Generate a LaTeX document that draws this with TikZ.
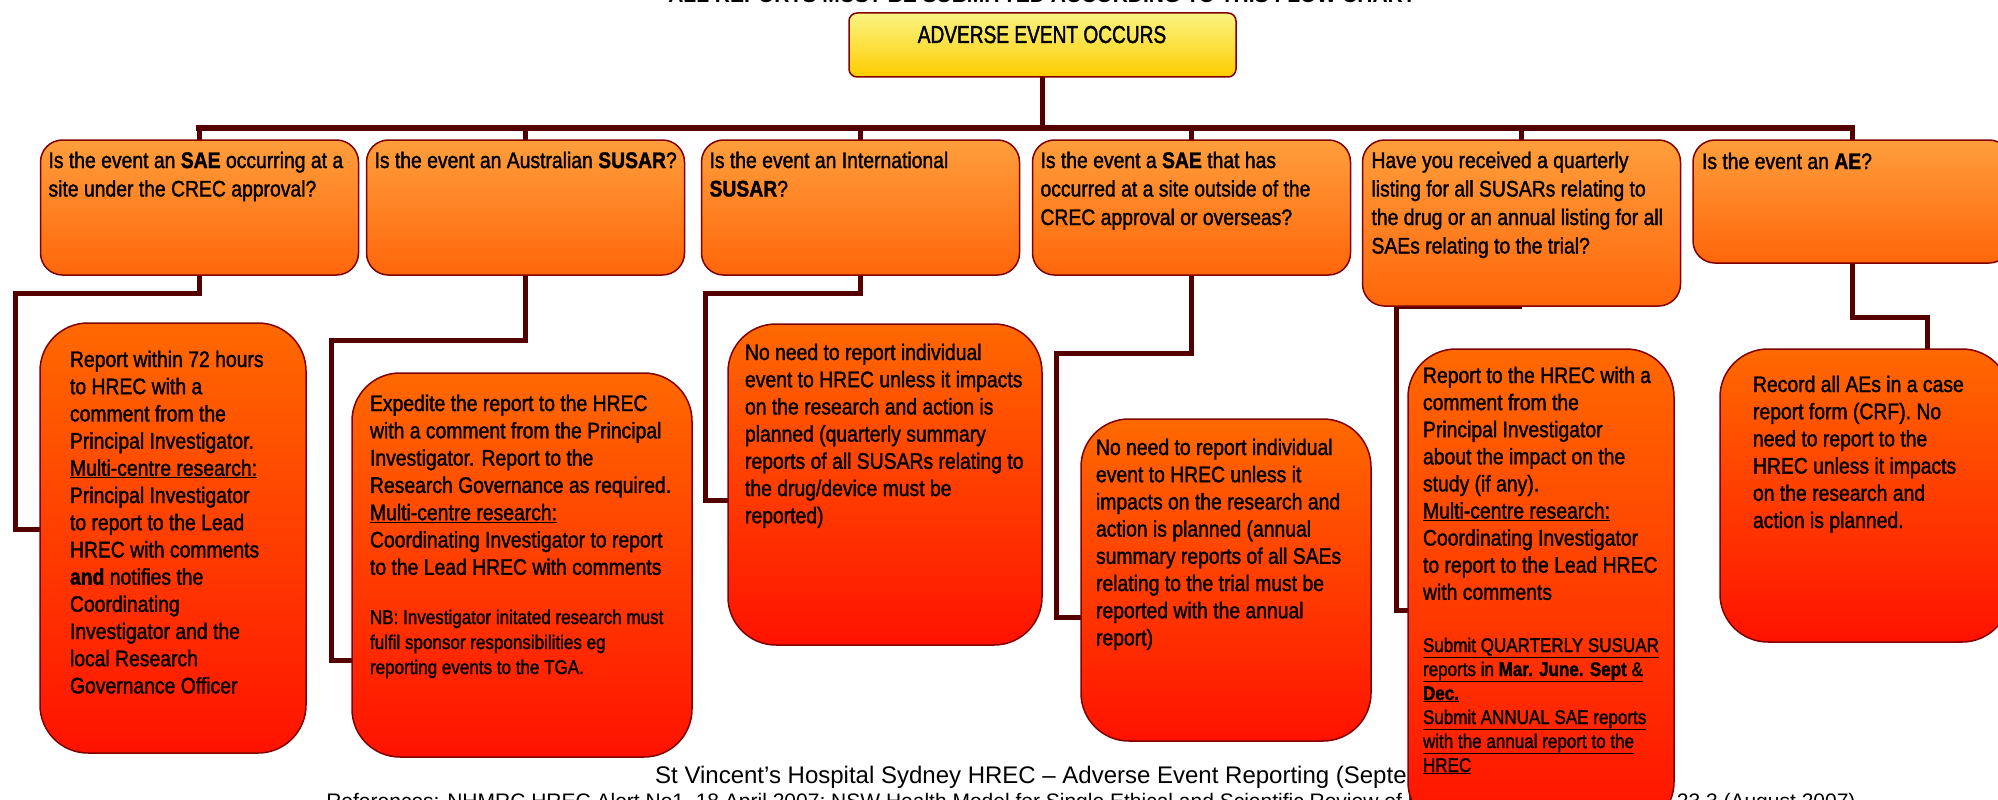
\documentclass[tikz,border=0pt]{standalone}
\usepackage{fontspec}
\setmainfont{Liberation Sans}[FakeStretch=0.86, FakeBold=1.5]
\newfontfamily\arialf{Liberation Sans}
\newfontfamily\headf{Liberation Sans}[FakeStretch=0.78, FakeBold=1.5]
\usetikzlibrary{backgrounds}
\definecolor{connc}{RGB}{85,0,0}
\definecolor{bord}{RGB}{128,0,0}
\definecolor{qtop}{RGB}{255,158,60}
\definecolor{qbot}{RGB}{255,102,10}
\definecolor{atop}{RGB}{255,105,0}
\definecolor{abot}{RGB}{255,18,0}
\definecolor{ytop}{RGB}{250,244,130}
\definecolor{ybot}{RGB}{255,204,0}
\newcommand\tlines[2]{\vtop{\baselineskip=#1\relax\lineskiplimit=-1000pt\lineskip=0pt\halign{##\hfil\cr#2\crcr}}}
\begin{document}
\begin{tikzpicture}[x=1pt,y=-1pt,
  conn/.style={draw=connc, line width=5pt, line join=miter},
  bus/.style={draw=connc, line width=6.5pt, line cap=rect},
  box/.style={draw=bord, line width=1.5pt, rounded corners=#1, inner sep=0pt, outer sep=0pt},
  qbox/.style={box=22pt, top color=qtop, bottom color=qbot},
  abox/.style={box=48pt, top color=atop, bottom color=abot},
  txt/.style={anchor=base west, inner sep=0pt, outer sep=0pt},
  qtxt/.style={txt, font=\fontsize{22.5pt}{28.5pt}\selectfont},
  atxt/.style={txt, font=\fontsize{22.5pt}{27.2pt}\selectfont},
  stxt/.style={txt, font=\fontsize{19.8pt}{24pt}\selectfont},
  foot/.style={inner sep=0pt, font=\arialf\fontsize{21pt}{24pt}\selectfont},
]
\path[use as bounding box] (0,0) rectangle (1998,800);
\clip (0,0) rectangle (1998,800);

% title (cut off at top)
\node[anchor=base, inner sep=0pt, font=\arialf\bfseries\fontsize{21pt}{24pt}\selectfont] (title) at (1042,3) {ALL REPORTS MUST BE SUBMITTED ACCORDING TO THIS FLOW CHART};

% top box
\node[box=8pt, top color=ytop, bottom color=ybot, minimum width=387pt, minimum height=64pt] (top) at (1042.5,45) {};
\node[anchor=base, inner sep=0pt, font=\headf\fontsize{24.5pt}{28pt}\selectfont] (ttop) at (1042,43) {ADVERSE EVENT OCCURS};

% question boxes
\node[qbox, minimum width=318pt, minimum height=135pt] (q1) at (199.5,207.5) {};
\node[qbox, minimum width=318pt, minimum height=135pt] (q2) at (525.5,207.5) {};
\node[qbox, minimum width=318pt, minimum height=135pt] (q3) at (860.5,207.5) {};
\node[qbox, minimum width=318pt, minimum height=135pt] (q4) at (1191.5,207.5) {};
\node[qbox, minimum width=318pt, minimum height=166pt] (q5) at (1521.5,223) {};
\node[qbox, minimum width=318pt, minimum height=123pt] (q6) at (1852,201.5) {};

\node[qtxt] (tq1) at ([shift={(8,28)}]q1.north west) {\tlines{28.5pt}{Is the event an \textbf{SAE} occurring at a\cr site under the CREC approval?}};
\node[qtxt] (tq2) at ([shift={(8,28)}]q2.north west) {\tlines{28.5pt}{Is the event an Australian \textbf{SUSAR}?}};
\node[qtxt] (tq3) at ([shift={(8,28)}]q3.north west) {\tlines{28.5pt}{Is the event an International\cr\textbf{SUSAR}?}};
\node[qtxt] (tq4) at ([shift={(8,28)}]q4.north west) {\tlines{28.5pt}{Is the event a \textbf{SAE} that has\cr occurred at a site outside of the\cr CREC approval or overseas?}};
\node[qtxt] (tq5) at ([shift={(9,28)}]q5.north west) {\tlines{28.5pt}{Have you received a quarterly\cr listing for all SUSARs relating to\cr the drug or an annual listing for all\cr SAEs relating to the trial?}};
\node[qtxt] (tq6) at ([shift={(9,29)}]q6.north west) {\tlines{28.5pt}{Is the event an \textbf{AE}?}};

% answer boxes
\node[abox, minimum width=266pt, minimum height=430pt] (a1) at (173,538) {};
\node[abox, minimum width=340pt, minimum height=384pt] (a2) at (522,565) {};
\node[abox, minimum width=314pt, minimum height=321pt] (a3) at (885,484.5) {};
\node[abox, minimum width=290pt, minimum height=322pt] (a4) at (1226,580) {};
\node[abox, minimum width=266pt, minimum height=481pt] (a5) at (1541,589.5) {};
\node[abox, minimum width=290pt, minimum height=293pt] (a6) at (1865,495.5) {};

\node[atxt] (ta1) at ([shift={(30,44)}]a1.north west) {\tlines{27.2pt}{Report within 72 hours\cr to HREC with a\cr comment from the\cr Principal Investigator.\cr \underline{Multi-centre research:}\cr Principal Investigator\cr to report to the Lead\cr HREC with comments\cr \textbf{and} notifies the\cr Coordinating\cr Investigator and the\cr local Research\cr Governance Officer}};
\node[atxt] (ta2) at ([shift={(18,38)}]a2.north west) {\tlines{27.3pt}{Expedite the report to the HREC\cr with a comment from the Principal\cr Investigator. Report to the\cr Research Governance as required.\cr \underline{Multi-centre research:}\cr Coordinating Investigator to report\cr to the Lead HREC with comments}};
\node[stxt] (tb2) at ([shift={(18,251)}]a2.north west) {\tlines{25pt}{NB: Investigator initated research must\cr fulfil sponsor responsibilities eg\cr reporting events to the TGA.}};
\node[atxt] (ta3) at ([shift={(17,36)}]a3.north west) {\tlines{27.2pt}{No need to report individual\cr event to HREC unless it impacts\cr on the research and action is\cr planned (quarterly summary\cr reports of all SUSARs relating to\cr the drug/device must be\cr reported)}};
\node[atxt] (ta4) at ([shift={(15,36)}]a4.north west) {\tlines{27.2pt}{No need to report individual\cr event to HREC unless it\cr impacts on the research and\cr action is planned (annual\cr summary reports of all SAEs\cr relating to the trial must be\cr reported with the annual\cr report)}};
\node[atxt] (ta5) at ([shift={(15,34)}]a5.north west) {\tlines{27.1pt}{Report to the HREC with a\cr comment from the\cr Principal Investigator\cr about the impact on the\cr study (if any).\cr \underline{Multi-centre research:}\cr Coordinating Investigator\cr to report to the Lead HREC\cr with comments}};
\node[stxt] (tb5) at ([shift={(15,303)}]a5.north west) {\tlines{24pt}{\underline{Submit QUARTERLY SUSUAR}\cr \underline{reports in \textbf{Mar. June. Sept} \&}\cr \underline{\textbf{Dec.}}\cr \underline{Submit ANNUAL SAE reports}\cr \underline{with the annual report to the}\cr \underline{HREC}}};
\node[atxt] (ta6) at ([shift={(33,43)}]a6.north west) {\tlines{27.2pt}{Record all AEs in a case\cr report form (CRF). No\cr need to report to the\cr HREC unless it impacts\cr on the research and\cr action is planned.}};

\begin{pgfonlayer}{background}
\fill[white] (0,0) rectangle (1998,800);
\node[foot, anchor=base west, font=\arialf\fontsize{24pt}{27pt}\selectfont] (foot1) at (655,783) {St Vincent’s Hospital Sydney HREC – Adverse Event Reporting (September 2007)};
\node[foot, anchor=base] (foot2) at (1091,808) {References: NHMRC HREC Alert No1, 18 April 2007; NSW Health Model for Single Ethical and Scientific Review of Multi-centre Research: SOP 23.3 (August 2007)};
\draw[conn] (top.south) -- (top.south |- 0,128);
\draw[bus] (q1.north |- 0,128) -- (q6.north |- 0,128);
\foreach \q in {q1,q2,q3,q4,q5,q6} \draw[conn] (\q.north) -- (\q.north |- 0,128);
\coordinate (k1) at (15,293);
\coordinate (k2) at (331,340);
\coordinate (k3) at (705,293);
\coordinate (k4) at (1056,353);
\coordinate (k5) at (1396,306);
\coordinate (k6) at (1927,317);
\draw[conn] (q1.south) |- (k1) |- (a1.west |- 0,529);
\draw[conn] (q2.south) |- (k2) |- (a2.west |- 0,660);
\draw[conn] (q3.south) |- (k3) |- (a3.west |- 0,500);
\draw[conn] (q4.south) |- (k4) |- (a4.west |- 0,617);
\draw[conn] (q5.south) -- (k5) |- (a5.west |- 0,610);
\draw[conn] (q6.south) |- (k6) -- (k6 |- a6.north);
\end{pgfonlayer}
\end{tikzpicture}
\end{document}
